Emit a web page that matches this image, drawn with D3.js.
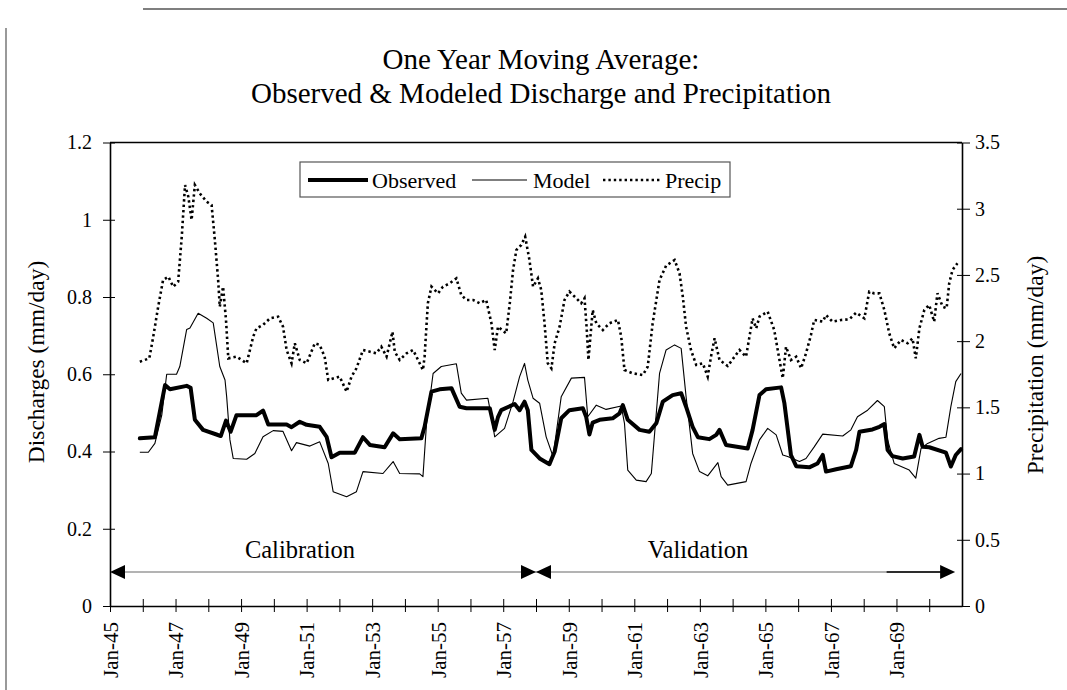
<!DOCTYPE html>
<html><head><meta charset="utf-8">
<script src="https://cdn.jsdelivr.net/npm/d3@7"></script>
<style>
body{margin:0;background:#fff}
svg{display:block}
text{font-family:"Liberation Serif","Times New Roman",serif;fill:#000}
</style>
</head><body>
<svg id="c" width="1067" height="690"></svg>
<script>
// ---------- DATA ----------
const titleLines = ["One Year Moving Average:", "Observed & Modeled Discharge and Precipitation"];
const leftAxisTitle = "Discharges (mm/day)";
const rightAxisTitle = "Precipitation (mm/day)";
const seriesNames = ["Observed", "Model", "Precip"];
const periodNames = ["Calibration", "Validation"];
const periodBounds = [1945, 1958, 1970.79];

const yTicks = [0, 0.2, 0.4, 0.6, 0.8, 1, 1.2];
const yTickLabels = ["0", "0.2", "0.4", "0.6", "0.8", "1", "1.2"];
const pTicks = [0, 0.5, 1, 1.5, 2, 2.5, 3, 3.5];
const pTickLabels = ["0", "0.5", "1", "1.5", "2", "2.5", "3", "3.5"];
const xTickYears = [1945,1946,1947,1948,1949,1950,1951,1952,1953,1954,1955,1956,1957,1958,1959,1960,1961,1962,1963,1964,1965,1966,1967,1968,1969,1970];
const xLabelYears = [1945,1947,1949,1951,1953,1955,1957,1959,1961,1963,1965,1967,1969];
const xTickLabels = ["Jan-45","Jan-47","Jan-49","Jan-51","Jan-53","Jan-55","Jan-57","Jan-59","Jan-61","Jan-63","Jan-65","Jan-67","Jan-69"];

// [decimal year, discharge mm/day]
const observed = [
[1945.91,0.434],[1946.37,0.437],[1946.68,0.572],[1946.83,0.561],[1947.34,0.570],[1947.46,0.565],
[1947.59,0.482],[1947.84,0.456],[1948.25,0.444],[1948.38,0.440],[1948.54,0.480],[1948.68,0.451],
[1948.86,0.494],[1949.47,0.494],[1949.67,0.506],[1949.83,0.470],[1950.39,0.470],[1950.54,0.463],
[1950.79,0.477],[1951.00,0.469],[1951.40,0.464],[1951.61,0.438],[1951.76,0.385],[1952.01,0.397],
[1952.47,0.397],[1952.72,0.437],[1952.93,0.417],[1953.38,0.411],[1953.64,0.447],[1953.84,0.432],
[1954.50,0.434],[1954.60,0.464],[1954.81,0.555],[1955.06,0.561],[1955.42,0.564],[1955.67,0.516],
[1955.88,0.512],[1956.59,0.512],[1956.74,0.456],[1956.84,0.489],[1956.94,0.507],[1957.35,0.523],
[1957.50,0.507],[1957.65,0.529],[1957.75,0.507],[1957.86,0.404],[1958.11,0.382],[1958.41,0.367],
[1958.57,0.400],[1958.77,0.486],[1959.02,0.507],[1959.43,0.512],[1959.53,0.490],[1959.63,0.444],
[1959.73,0.475],[1959.94,0.482],[1960.34,0.486],[1960.55,0.499],[1960.65,0.520],[1960.80,0.482],
[1961.16,0.456],[1961.46,0.451],[1961.67,0.473],[1961.87,0.529],[1962.17,0.546],[1962.43,0.551],
[1962.58,0.516],[1962.78,0.464],[1962.94,0.437],[1963.29,0.432],[1963.50,0.443],[1963.60,0.456],
[1963.80,0.417],[1964.46,0.408],[1964.61,0.456],[1964.82,0.546],[1965.02,0.561],[1965.48,0.566],
[1965.58,0.525],[1965.78,0.391],[1965.94,0.362],[1966.34,0.359],[1966.59,0.369],[1966.75,0.391],
[1966.85,0.348],[1967.16,0.354],[1967.61,0.362],[1967.77,0.404],[1967.87,0.451],[1968.27,0.457],
[1968.48,0.464],[1968.63,0.471],[1968.73,0.404],[1968.88,0.388],[1969.19,0.382],[1969.54,0.387],
[1969.70,0.443],[1969.80,0.412],[1970.00,0.411],[1970.51,0.397],[1970.66,0.361],[1970.81,0.391],
[1970.97,0.406]];

const model = [
[1945.91,0.398],[1946.17,0.398],[1946.37,0.421],[1946.58,0.494],[1946.73,0.600],[1947.03,0.600],
[1947.13,0.620],[1947.34,0.716],[1947.44,0.720],[1947.69,0.758],[1947.95,0.745],[1948.15,0.733],
[1948.35,0.620],[1948.51,0.585],[1948.56,0.542],[1948.66,0.430],[1948.76,0.382],[1949.17,0.380],
[1949.42,0.395],[1949.67,0.438],[1949.98,0.454],[1950.28,0.452],[1950.54,0.402],[1950.69,0.423],
[1951.10,0.414],[1951.40,0.425],[1951.66,0.369],[1951.81,0.296],[1952.22,0.283],[1952.52,0.296],
[1952.72,0.348],[1953.33,0.343],[1953.64,0.374],[1953.84,0.343],[1954.45,0.342],[1954.55,0.335],
[1954.66,0.473],[1954.86,0.602],[1955.11,0.620],[1955.57,0.627],[1955.72,0.551],[1955.88,0.533],
[1956.53,0.538],[1956.64,0.490],[1956.74,0.438],[1957.04,0.460],[1957.30,0.529],[1957.50,0.594],
[1957.65,0.628],[1957.75,0.585],[1957.91,0.538],[1958.11,0.525],[1958.31,0.438],[1958.52,0.387],
[1958.77,0.542],[1959.08,0.590],[1959.48,0.592],[1959.58,0.490],[1959.84,0.520],[1960.14,0.509],
[1960.60,0.518],[1960.70,0.473],[1960.80,0.352],[1961.06,0.326],[1961.36,0.322],[1961.52,0.343],
[1961.77,0.602],[1961.97,0.663],[1962.23,0.676],[1962.43,0.667],[1962.58,0.542],[1962.78,0.395],
[1962.99,0.348],[1963.24,0.337],[1963.55,0.371],[1963.65,0.335],[1963.85,0.313],[1964.41,0.322],
[1964.56,0.369],[1964.82,0.430],[1965.07,0.460],[1965.33,0.443],[1965.53,0.391],[1965.68,0.387],
[1966.04,0.374],[1966.24,0.382],[1966.49,0.412],[1966.75,0.445],[1967.36,0.440],[1967.61,0.456],
[1967.81,0.490],[1968.12,0.507],[1968.42,0.532],[1968.63,0.516],[1968.73,0.430],[1968.93,0.369],
[1969.39,0.352],[1969.59,0.331],[1969.75,0.408],[1969.95,0.421],[1970.30,0.434],[1970.51,0.437],
[1970.66,0.516],[1970.81,0.581],[1970.97,0.602]];

// [decimal year, precipitation mm/day]
const precip = [
[1945.91,1.845],[1946.20,1.870],[1946.32,2.034],[1946.47,2.260],[1946.62,2.462],[1946.78,2.487],
[1946.93,2.411],[1947.08,2.449],[1947.19,2.789],[1947.29,3.179],[1947.39,3.091],[1947.49,2.915],
[1947.59,3.179],[1947.74,3.116],[1947.95,3.053],[1948.10,3.028],[1948.20,2.764],[1948.30,2.462],
[1948.35,2.260],[1948.45,2.411],[1948.54,2.160],[1948.61,1.870],[1948.86,1.883],[1949.17,1.833],
[1949.37,2.034],[1949.47,2.097],[1949.67,2.122],[1949.88,2.172],[1950.13,2.185],[1950.28,2.109],
[1950.39,1.933],[1950.54,1.833],[1950.64,1.984],[1950.79,1.858],[1951.00,1.833],[1951.25,1.984],
[1951.40,1.971],[1951.55,1.883],[1951.66,1.707],[1952.01,1.732],[1952.22,1.618],[1952.37,1.732],
[1952.52,1.795],[1952.72,1.933],[1953.13,1.908],[1953.28,1.958],[1953.44,1.883],[1953.62,2.071],
[1953.69,1.920],[1953.84,1.858],[1954.05,1.908],[1954.25,1.933],[1954.40,1.858],[1954.55,1.782],
[1954.60,1.883],[1954.70,2.286],[1954.81,2.411],[1955.01,2.361],[1955.16,2.411],[1955.37,2.437],
[1955.57,2.474],[1955.72,2.348],[1955.88,2.311],[1956.08,2.311],[1956.28,2.286],[1956.48,2.311],
[1956.64,2.135],[1956.74,1.933],[1956.84,2.109],[1957.09,2.059],[1957.20,2.286],[1957.30,2.537],
[1957.40,2.688],[1957.55,2.726],[1957.67,2.789],[1957.80,2.613],[1957.91,2.411],[1958.06,2.474],
[1958.16,2.386],[1958.26,2.135],[1958.36,1.833],[1958.47,1.795],[1958.57,1.984],[1958.72,2.109],
[1958.87,2.311],[1959.02,2.374],[1959.23,2.324],[1959.38,2.286],[1959.48,2.324],[1959.55,2.084],
[1959.60,1.858],[1959.73,2.235],[1959.84,2.135],[1960.04,2.084],[1960.24,2.135],[1960.50,2.160],
[1960.60,2.034],[1960.70,1.782],[1960.95,1.757],[1961.26,1.744],[1961.41,1.807],[1961.56,2.135],
[1961.77,2.462],[1961.97,2.570],[1962.23,2.613],[1962.38,2.512],[1962.48,2.336],[1962.58,2.109],
[1962.73,1.933],[1962.89,1.820],[1963.09,1.833],[1963.24,1.732],[1963.34,1.883],[1963.45,2.021],
[1963.60,1.858],[1963.85,1.812],[1964.21,1.933],[1964.41,1.883],[1964.61,2.172],[1964.72,2.097],
[1964.82,2.185],[1965.07,2.223],[1965.27,2.084],[1965.43,1.858],[1965.53,1.720],[1965.63,1.958],
[1965.78,1.858],[1965.94,1.883],[1966.09,1.795],[1966.24,1.908],[1966.39,2.046],[1966.49,2.160],
[1966.75,2.147],[1966.85,2.197],[1967.05,2.147],[1967.31,2.160],[1967.56,2.165],[1967.77,2.215],
[1968.02,2.172],[1968.17,2.374],[1968.32,2.361],[1968.48,2.361],[1968.63,2.235],[1968.78,2.059],
[1968.93,1.946],[1969.14,2.009],[1969.34,1.984],[1969.49,2.021],[1969.59,1.870],[1969.70,2.097],
[1969.85,2.235],[1970.00,2.273],[1970.15,2.147],[1970.25,2.361],[1970.41,2.260],[1970.53,2.248],
[1970.61,2.437],[1970.71,2.537],[1970.86,2.588]];

// ---------- CHART ----------
const W = 1067, H = 690;
const plot = {left: 110, right: 962, top: 142.5, bottom: 606};
const FONT = "Liberation Serif, Times New Roman, serif";

const svg = d3.select("#c");

const x = d3.scaleLinear().domain([1945, 1971]).range([plot.left, plot.right]);
const y = d3.scaleLinear().domain([0, 1.2]).range([plot.bottom, plot.top]);
const yP = d3.scaleLinear().domain([0, 3.5]).range([plot.bottom, plot.top]);

// outer frame (scan edges)
svg.append("line").attr("x1", 143).attr("y1", 9).attr("x2", W).attr("y2", 9)
  .attr("stroke", "#555").attr("stroke-width", 1.5);
svg.append("line").attr("x1", 6).attr("y1", 28).attr("x2", 6).attr("y2", H)
  .attr("stroke", "#777").attr("stroke-width", 1.5);

// title
svg.selectAll("text.title").data(titleLines).enter().append("text")
  .attr("class", "title")
  .attr("x", 541).attr("y", (d, i) => 69 + i * 34)
  .attr("text-anchor", "middle").attr("font-size", 29).text(d => d);

// plot top border
svg.append("line").attr("x1", plot.left).attr("x2", plot.right)
  .attr("y1", y(1.2)).attr("y2", y(1.2)).attr("stroke", "#000").attr("stroke-width", 1.5);

// left axis
const gL = svg.append("g").attr("transform", `translate(${plot.left},0)`)
  .call(d3.axisLeft(y).tickValues(yTicks).tickFormat((d, i) => yTickLabels[i])
    .tickSizeInner(7).tickSizeOuter(0).tickPadding(11));
gL.attr("font-size", 20).attr("font-family", FONT);
gL.selectAll(".tick line").attr("x1", 5);
gL.select(".domain").attr("stroke-width", 1.6);

// right axis
const gR = svg.append("g").attr("transform", `translate(${plot.right},0)`)
  .call(d3.axisRight(yP).tickValues(pTicks).tickFormat((d, i) => pTickLabels[i])
    .tickSizeInner(8).tickSizeOuter(0).tickPadding(5));
gR.attr("font-size", 20).attr("font-family", FONT);
gR.selectAll(".tick line").attr("x1", -5);
gR.select(".domain").attr("stroke-width", 1.6);

// bottom axis
const gB = svg.append("g").attr("transform", `translate(0,${plot.bottom})`)
  .call(d3.axisBottom(x).tickValues(xTickYears)
    .tickFormat(d => { const k = xLabelYears.indexOf(d); return k >= 0 ? xTickLabels[k] : ""; })
    .tickSizeInner(6).tickSizeOuter(0));
gB.attr("font-size", 21).attr("font-family", FONT);
gB.selectAll(".tick line").attr("y1", -7);
gB.select(".domain").attr("stroke-width", 1.6);
gB.selectAll(".tick text")
  .attr("y", 0).attr("x", -16).attr("dy", "0.35em")
  .attr("transform", "rotate(-90)").style("text-anchor", "end");

// axis titles
svg.append("text").attr("transform", `translate(44,362) rotate(-90)`)
  .attr("text-anchor", "middle").attr("font-size", 23.5).text(leftAxisTitle);
svg.append("text").attr("transform", `translate(1043,365) rotate(-90)`)
  .attr("text-anchor", "middle").attr("font-size", 23.5).text(rightAxisTitle);

// series
const lineQ = d3.line().x(d => x(d[0])).y(d => y(d[1]));
const lineP = d3.line().x(d => x(d[0])).y(d => yP(d[1]));

svg.append("path").datum(precip).attr("d", lineP)
  .attr("fill", "none").attr("stroke", "#000").attr("stroke-width", 2.6)
  .attr("stroke-dasharray", "2.4,3");
svg.append("path").datum(model).attr("d", lineQ)
  .attr("fill", "none").attr("stroke", "#000").attr("stroke-width", 1.1)
  .attr("stroke-linejoin", "round");
svg.append("path").datum(observed).attr("d", lineQ)
  .attr("fill", "none").attr("stroke", "#000").attr("stroke-width", 4)
  .attr("stroke-linejoin", "round").attr("stroke-linecap", "round");

// legend
const lg = svg.append("g");
lg.append("rect").attr("x", 300).attr("y", 162).attr("width", 430).attr("height", 35)
  .attr("fill", "#fff").attr("stroke", "#555").attr("stroke-width", 1.2);
const legendItems = [
  {x1: 308, x2: 368, tx: 372, w: 4, dash: null},
  {x1: 472, x2: 527, tx: 533, w: 1.1, dash: null},
  {x1: 603, x2: 660, tx: 665, w: 2.6, dash: "2.4,3"}
];
legendItems.forEach((it, i) => {
  lg.append("line").attr("x1", it.x1).attr("x2", it.x2).attr("y1", 180).attr("y2", 180)
    .attr("stroke", "#000").attr("stroke-width", it.w).attr("stroke-dasharray", it.dash);
  lg.append("text").attr("x", it.tx).attr("y", 188).attr("font-size", 22).text(seriesNames[i]);
});

// calibration / validation arrows
const ay = y(0.088);
const ag = svg.append("g");
function head(tip, dir) {
  const b = tip - dir * 15;
  ag.append("path").attr("d", `M${tip},${ay}L${b},${ay - 7}L${b},${ay + 7}Z`).attr("fill", "#000");
}
ag.append("line").attr("x1", x(periodBounds[0]) + 14).attr("x2", x(periodBounds[2]) - 14)
  .attr("y1", ay).attr("y2", ay).attr("stroke", "#9a9a9a").attr("stroke-width", 1.6);
ag.append("line").attr("x1", x(1968.7)).attr("x2", x(periodBounds[2]) - 14)
  .attr("y1", ay).attr("y2", ay).attr("stroke", "#000").attr("stroke-width", 1.6);
head(x(periodBounds[0]), -1);
head(x(periodBounds[1]), 1);
head(x(periodBounds[1]), -1);
head(x(periodBounds[2]), 1);

svg.append("text").attr("x", 300).attr("y", 558).attr("text-anchor", "middle")
  .attr("font-size", 24.5).text(periodNames[0]);
svg.append("text").attr("x", 698).attr("y", 558).attr("text-anchor", "middle")
  .attr("font-size", 24.5).text(periodNames[1]);
</script>
</body></html>
